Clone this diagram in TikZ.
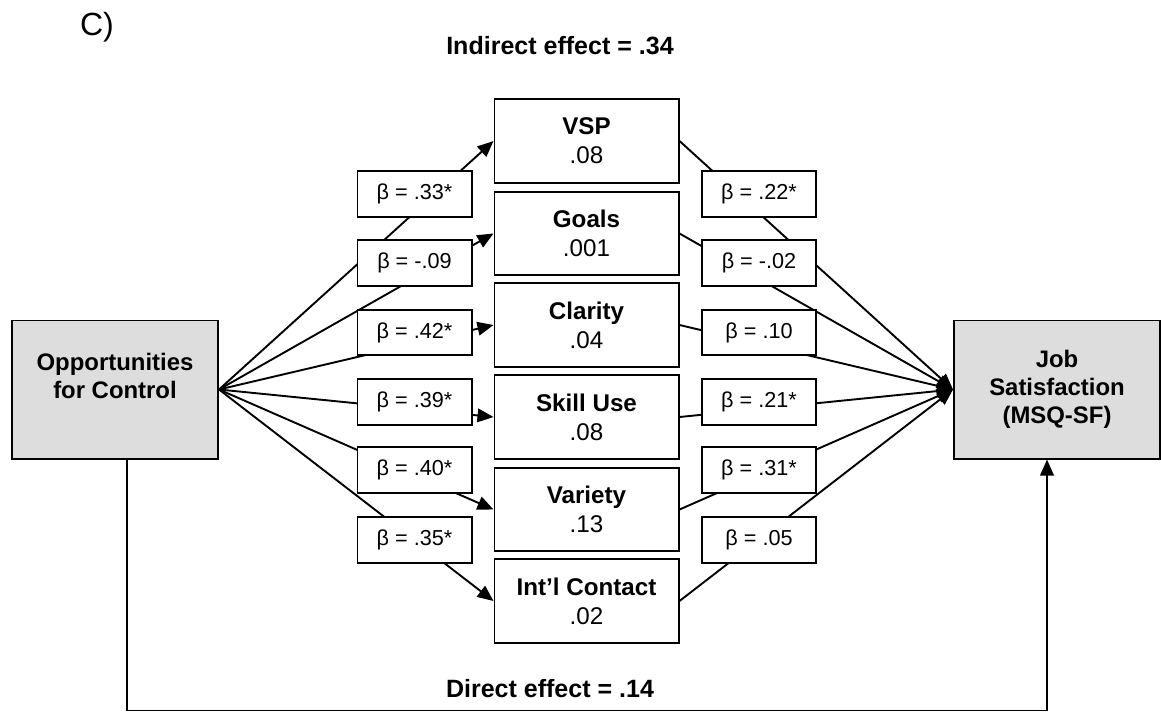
\documentclass[tikz,border=0pt]{standalone}
\usepackage{fontspec}
\setmainfont{Liberation Sans}
\usepackage{xcolor}
\usetikzlibrary{arrows.meta}
\definecolor{boxgray}{RGB}{221,221,221}

\begin{document}
\begin{tikzpicture}[
    x=0.025cm, y=-0.025cm,
    varbox/.style={rectangle, draw=black, line width=1.4pt, fill=boxgray, minimum width=5.15cm, minimum height=3.45cm, align=center, font=\bfseries\fontsize{17}{20}\selectfont},
    mediator/.style={rectangle, draw=black, line width=1.4pt, fill=white, minimum width=4.6cm, minimum height=2.08cm, align=center, font=\fontsize{17.2}{20.5}\selectfont},
    coef/.style={rectangle, draw=black, line width=1.4pt, fill=white, minimum width=2.85cm, minimum height=1.13cm, font=\fontsize{15.4}{18}\selectfont},
    link/.style={line width=1.35pt, -{Triangle[length=0.4cm, width=0.34cm]}},
    effect/.style={anchor=base, font=\bfseries\fontsize{17.8}{21}\selectfont}
]
\useasboundingbox (0,0) rectangle (1161,711);

% Titles
\node[anchor=base, font=\fontsize{22.8}{26}\selectfont] (panel) at (97,35) {C)};
\node[effect] (indirect) at (560,54) {Indirect effect = .34};
\node[effect] (direct) at (550,697) {Direct effect = .14};

% Predictor and outcome
\node[varbox] (control) at (115,389.5) {Opportunities\\for Control\\~};
\node[varbox] (jobsat) at (1057,389.5) {Job\\Satisfaction\\(MSQ-SF)};

% Mediators
\node[mediator] (vsp) at (586.5,141) {\textbf{VSP}\\.08};
\node[mediator] (goals) at (586.5,233.5) {\textbf{Goals}\\.001};
\node[mediator] (clarity) at (586.5,325) {\textbf{Clarity}\\.04};
\node[mediator] (skill) at (586.5,417) {\textbf{Skill Use}\\.08};
\node[mediator] (variety) at (586.5,509.5) {\textbf{Variety}\\.13};
\node[mediator] (contact) at (586.5,601) {\textbf{Int’l Contact}\\.02};

% a paths
\draw[link] (control.east) -- (vsp.west);
\draw[link] (control.east) -- (goals.west);
\draw[link] (control.east) -- (clarity.west);
\draw[link] (control.east) -- (skill.west);
\draw[link] (control.east) -- (variety.west);
\draw[link] (control.east) -- (contact.west);

% b paths
\draw[link] (vsp.east) -- (jobsat.west);
\draw[link] (goals.east) -- (jobsat.west);
\draw[link] (clarity.east) -- (jobsat.west);
\draw[link] (skill.east) -- (jobsat.west);
\draw[link] (variety.east) -- (jobsat.west);
\draw[link] (contact.east) -- (jobsat.west);

% Direct path
\draw[link] ([xshift=0.3cm]control.south) -- ++(0,251) -| ([xshift=-0.25cm]jobsat.south);

% Coefficients
\node[coef] (a1) at (414.5,194) {β = .33*};
\node[coef] (a2) at (414.5,263) {β = -.09};
\node[coef] (a3) at (414.5,332.5) {β = .42*};
\node[coef] (a4) at (414.5,402) {β = .39*};
\node[coef] (a5) at (414.5,470) {β = .40*};
\node[coef] (a6) at (414.5,540) {β = .35*};

\node[coef] (b1) at (759,194) {β = .22*};
\node[coef] (b2) at (759,263) {β = -.02};
\node[coef] (b3) at (759,332.5) {β = .10};
\node[coef] (b4) at (759,402) {β = .21*};
\node[coef] (b5) at (759,470) {β = .31*};
\node[coef] (b6) at (759,540) {β = .05};

\end{tikzpicture}
\end{document}
